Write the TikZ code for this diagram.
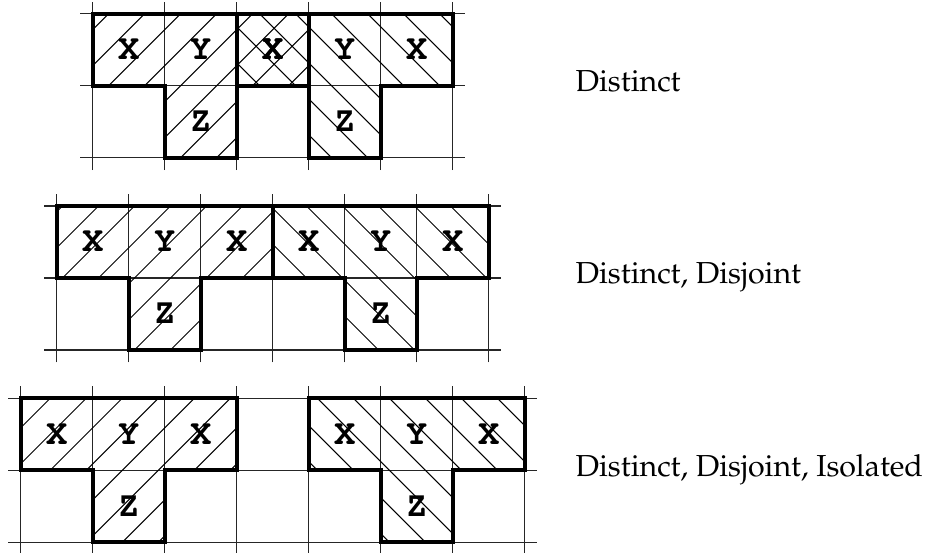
\documentclass[tikz,border=0pt]{standalone}
\usepackage[T1]{fontenc}
\usepackage{mathpazo}
\usepackage{tikz}
\usetikzlibrary{positioning}

% grid of one row: x, y, number of cells
\newcommand{\gridrow}[3]{%
  \foreach \i in {0,...,#3} \draw[gridline] (#1+\i,#2-0.17) -- (#1+\i,#2+2.17);
  \foreach \j in {0,1,2} \draw[gridline] (#1-0.17,#2+\j) -- (#1+#3+0.17,#2+\j);
}

% T piece: name, x, y, hatch direction, hatch phase
\newcommand{\tpiece}[5]{%
  \begin{scope}
    \clip (#2,#3+2) -- (#2+3,#3+2) -- (#2+3,#3+1) -- (#2+2,#3+1) -- (#2+2,#3) -- (#2+1,#3) -- (#2+1,#3+1) -- (#2,#3+1) -- cycle;
    \foreach \k in {-5,...,10} \draw[hatch] (#2+#5+0.5*\k,#3) -- ++(#4,2);
  \end{scope}
  \draw[outline] (#2,#3+2) -- (#2+3,#3+2) -- (#2+3,#3+1) -- (#2+2,#3+1) -- (#2+2,#3) -- (#2+1,#3) -- (#2+1,#3+1) -- (#2,#3+1) -- cycle;
  \node[letter] (#1xl) at (#2+0.5,#3+1.5) {X};
  \node[letter] (#1y) at (#2+1.5,#3+1.5) {Y};
  \node[letter] (#1xr) at (#2+2.5,#3+1.5) {X};
  \node[letter] (#1z) at (#2+1.5,#3+0.5) {Z};
}

\begin{document}
\begin{tikzpicture}[
  gridline/.style={line width=0.45pt, black!85},
  hatch/.style={line width=0.4pt},
  outline/.style={line width=1.6pt},
  letter/.style={inner sep=0pt, font=\fontsize{14}{16}\fontfamily{pcr}\bfseries\selectfont},
  caption/.style={anchor=mid west, inner sep=0pt, font=\fontsize{12}{14}\selectfont}
]
\useasboundingbox (-0.2875,-0.1347) rectangle (12.601,7.532);

% Distinct
\gridrow{1}{5.34}{5}
\tpiece{dstA}{1}{5.34}{2}{0.22}
\tpiece{dstB}{3}{5.34}{-2}{0.32}
\node[caption] (distinct) at (7.70,6.34) {Distinct};

% Distinct, Disjoint
\gridrow{0.5}{2.67}{6}
\tpiece{dsjA}{0.5}{2.67}{2}{0.08}
\tpiece{dsjB}{3.5}{2.67}{-2}{0.47}
\node[caption] (disjoint) at (7.70,3.67) {Distinct, Disjoint};

% Distinct, Disjoint, Isolated
\gridrow{0}{0}{7}
\tpiece{isoA}{0}{0}{2}{0.41}
\tpiece{isoB}{4}{0}{-2}{0.12}
\node[caption] (isolated) at (7.70,1.0) {Distinct, Disjoint, Isolated};
\end{tikzpicture}
\end{document}
